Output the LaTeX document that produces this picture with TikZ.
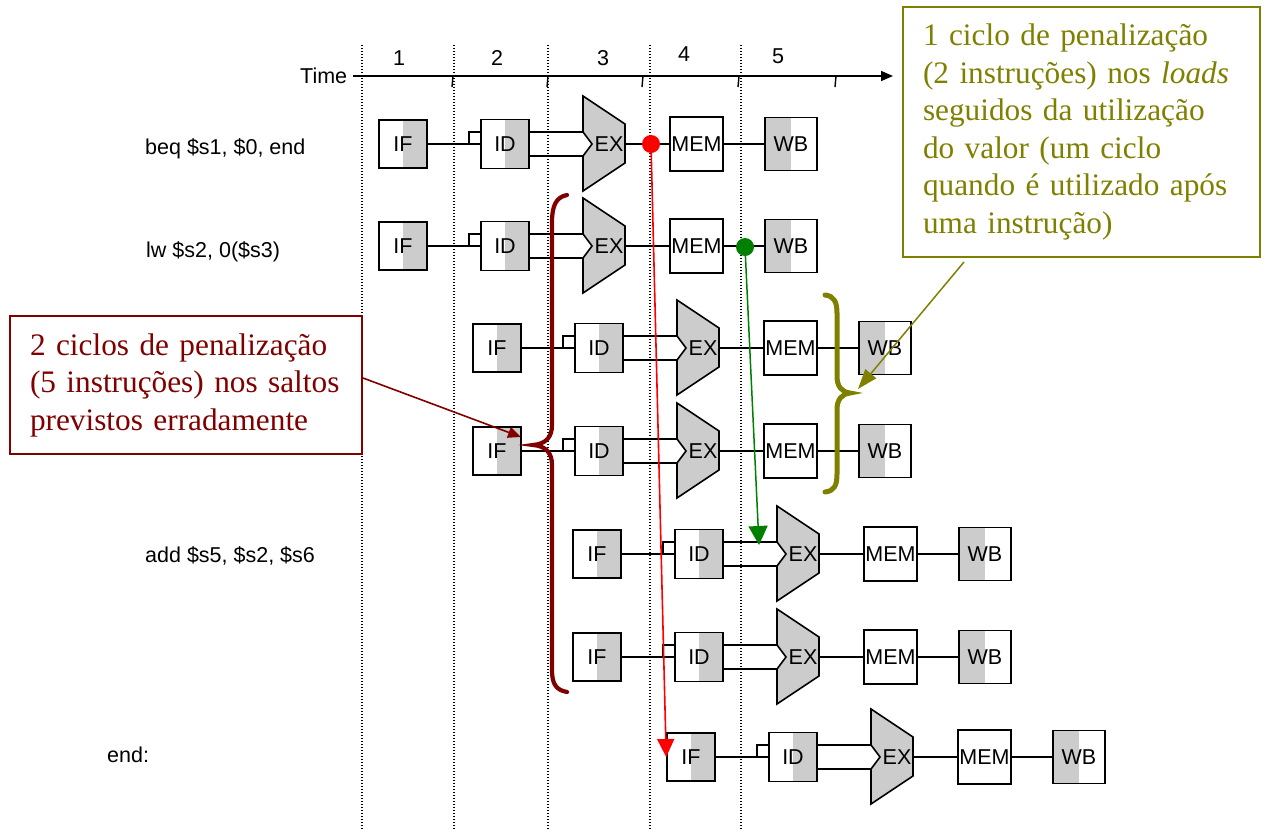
\documentclass[tikz,border=0pt]{standalone}
\usepackage{fontspec}
\setmainfont{Liberation Serif}
\setsansfont{Liberation Sans}
\usetikzlibrary{arrows.meta,calc}
\definecolor{stagegray}{RGB}{204,204,204}
\definecolor{brickred}{RGB}{128,0,0}
\definecolor{olivec}{RGB}{128,128,0}
\definecolor{greenc}{RGB}{0,128,0}
\definecolor{redc}{RGB}{255,0,0}
\tikzset{
 stage/.style={draw, line width=1.6pt, fill=white, inner sep=0pt, font=\sffamily\fontsize{21.5}{24}\selectfont},
 ifstage/.style={stage, minimum width=48pt, minimum height=48pt, path picture={\fill[stagegray] (path picture bounding box.south) rectangle (path picture bounding box.north east);}},
 idstage/.style={ifstage, minimum height=49pt},
 memstage/.style={stage, minimum width=53pt, minimum height=54pt},
 wbstage/.style={stage, minimum width=52pt, minimum height=53pt, path picture={\fill[stagegray] (path picture bounding box.south west) rectangle (path picture bounding box.north);}},
 exshape/.style={draw, line width=1.6pt, fill=stagegray, line join=miter},
 exlabel/.style={inner sep=0pt, font=\sffamily\fontsize{21.5}{24}\selectfont},
 wire/.style={line width=1.6pt},
 gridline/.style={line width=1.4pt, dash pattern=on 1.4pt off 1.6pt},
 lbl/.style={inner sep=0pt, font=\sffamily\fontsize{21.5}{24}\selectfont},
 callout/.style={line width=2pt, fill=white, inner xsep=20pt, align=left, font=\fontsize{31.3}{37.5}\selectfont},
}
\newcommand\pipeRow[3]{%
 \begin{scope}[shift={(#2,#3)}]
  \node[ifstage] (#1if) at (403,0) {IF};
  \node[idstage] (#1id) at (505,0) {ID};
  \coordinate (#1exa) at (583,-12);
  \coordinate (#1exb) at (583,12);
  \draw[exshape] (583,-48) -- (#1exa) -- (592,0) -- (#1exb) -- (583,47) -- (625,19) -- (625,-20) -- cycle;
  \node[exlabel] (#1ex) at (609,0) {EX};
  \coordinate (#1exo) at (625,0);
  \node[memstage] (#1mem) at (696.5,0) {MEM};
  \node[wbstage] (#1wb) at (791,0) {WB};
  \coordinate (#1br) at (469,-12);
  \draw[wire] (#1if.east) -- (#1id.west);
  \draw[wire] (#1br |- #1if.east) -- (#1br) -- (#1br -| #1id.west);
  \draw[wire] (#1id.east |- #1exa) -- (#1exa);
  \draw[wire] (#1id.east |- #1exb) -- (#1exb);
  \draw[wire] (#1exo) -- (#1mem.west);
  \draw[wire] (#1mem.east) -- (#1wb.west);
 \end{scope}}
\begin{document}
\begin{tikzpicture}[x=1pt,y=-1pt]
\useasboundingbox (0,0) rectangle (1266,830);
% dotted cycle boundaries
\foreach \x in {362,454,548,650,741} \draw[gridline] (\x,45) -- (\x,830);
% time axis
\node[lbl, anchor=west] (time) at (300,76) {Time};
\coordinate (axend) at (893,76);
\draw[line width=1.5pt, -{Triangle[length=12pt,width=10pt]}] ([xshift=6pt]time.east) -- (axend);
\foreach \x in {453,548,643,739,836} \draw[line width=1.4pt] (\x,76) -- (\x-1,87);
\node[lbl] (c1) at (399,58) {1};
\node[lbl] (c2) at (497,58) {2};
\node[lbl] (c3) at (603,58) {3};
\node[lbl] (c4) at (684,54) {4};
\node[lbl] (c5) at (778,56) {5};
% instruction labels
\node[lbl, anchor=base west] (ibeq) at (145,154) {beq \$s1, \$0, end};
\node[lbl, anchor=base west] (ilw) at (146,257) {lw \$s2, 0(\$s3)};
\node[lbl, anchor=base west] (iadd) at (145,562) {add \$s5, \$s2, \$s6};
\node[lbl, anchor=base west] (iend) at (107,762) {end:};
% pipelines
\pipeRow{ra}{0}{144}
\pipeRow{rb}{0}{246}
\pipeRow{rc}{94}{348}
\pipeRow{rd}{94}{451}
\pipeRow{re}{194}{554}
\pipeRow{rf}{194}{657}
\pipeRow{rg}{288}{757}
% braces
\draw[brickred, line width=4.2pt, line cap=round] (567,195) .. controls (556,197) and (552,206) .. (552,222) -- (552,425) .. controls (552,437) and (546,444) .. (533,445) .. controls (546,446) and (552,453) .. (552,465) -- (552,670) .. controls (552,684) and (556,690) .. (567,692);
\draw[olivec, line width=5pt, line cap=round] (825,295) .. controls (834,296) and (837,302) .. (837,313) -- (837,376) .. controls (837,387) and (842,392) .. (850,393) .. controls (842,394) and (837,399) .. (837,410) -- (837,474) .. controls (837,486) and (834,491) .. (825,492);
% dots
\node[circle, fill=redc, minimum size=18pt, inner sep=0pt] (rdot) at (651,144) {};
\node[circle, fill=greenc, minimum size=18pt, inner sep=0pt] (gdot) at (745,247) {};
% callouts
\node[callout, draw=brickred, text=brickred, minimum width=352pt, minimum height=138pt, text width=312pt] (redbox) at (186,385) {\mbox{2 ciclos de penalização}\\\mbox{(5 instruções) nos saltos}\\\mbox{previstos erradamente}};
\node[callout, draw=olivec, text=olivec, minimum width=357pt, minimum height=250pt, text width=317pt] (olivebox) at (1081.5,132) {\mbox{1 ciclo de penalização}\\\mbox{(2 instruções) nos \textit{loads}}\\\mbox{seguidos da utilização}\\\mbox{do valor (um ciclo}\\\mbox{quando é utilizado após}\\\mbox{uma instrução)}};
% arrows
\coordinate (rtip) at (521,437);
\coordinate (gtip) at (759,545);
\coordinate (otip) at (858,389);
\draw[redc, line width=1.6pt, -{Triangle[length=18pt,width=17pt]}] (rdot.center) -- (rgif.west);
\draw[greenc, line width=1.5pt, -{Triangle[length=19pt,width=19pt]}] (gdot.center) -- (gtip);
\draw[brickred, line width=1.6pt, -{Triangle[length=13pt,width=11pt]}] ([yshift=7pt]redbox.east) -- (rtip);
\draw[olivec, line width=1.5pt, -{Triangle[length=20pt,width=14pt]}] ([xshift=62pt,yshift=-4pt]olivebox.south west) -- (otip);
\end{tikzpicture}
\end{document}
